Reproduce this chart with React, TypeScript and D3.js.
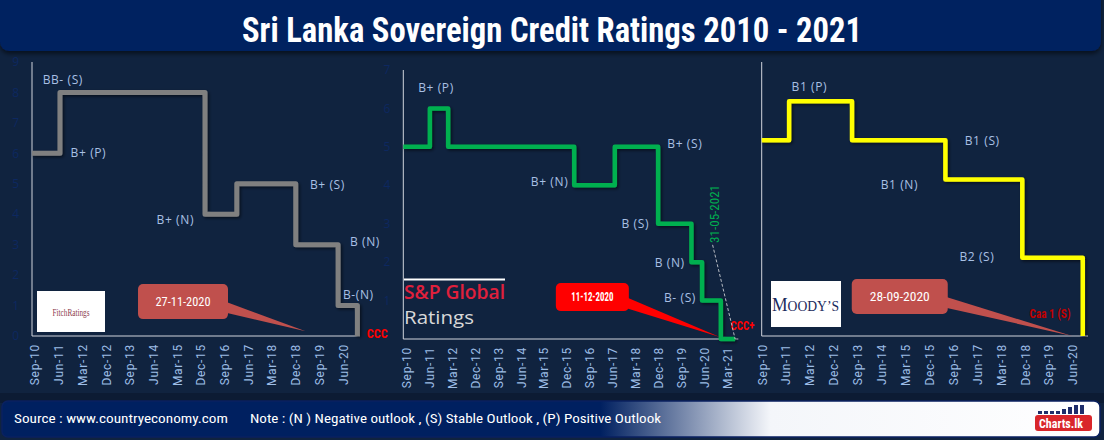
import React from "react";
import * as d3 from "d3";

const WIDTH = 1104;
const HEIGHT = 440;

const TITLE = "Sri Lanka Sovereign Credit Ratings 2010 - 2021";
const SOURCE_TEXT = "Source : www.countryeconomy.com";
const NOTE_TEXT = "Note : (N ) Negative outlook , (S) Stable Outlook , (P) Positive Outlook";

// x-axis tick labels (every 9 months)
const ticksBase = ["Sep-10", "Jun-11", "Mar-12", "Dec-12", "Sep-13", "Jun-14", "Mar-15", "Dec-15", "Sep-16", "Jun-17", "Mar-18", "Dec-18", "Sep-19", "Jun-20"];
const ticksSP = [...ticksBase, "Mar-21"];

// ---------- Fitch ----------
const fitchDates = ["2010-07-28", "2011-06-16", "2016-01-16", "2017-01-17", "2018-11-29", "2020-04-01", "2020-11-10"];
const fitchLevels = [6, 8, 4, 5, 3, 1, 0];
const fitchLabelText = ["BB- (S)", "B+ (P)", "B+ (N)", "B+ (S)", "B (N)", "B-(N)"];
const fitchLabelDates = ["2010-11-28", "2011-10-17", "2014-07-06", "2019-05-12", "2020-08-16", "2020-05-27"];
const fitchLabelLevels = [8.29, 5.89, 3.68, 4.84, 2.96, 1.22];
const fitchYTicks = [0, 1, 2, 3, 4, 5, 6, 7, 8, 9];
const fitchFinal = { text: "CCC", date: "2021-02-27", level: -0.07 };
const fitchCallout = { text: "27-11-2020", date: "2015-05-07", level: 1.13, tipDate: "2019-03-23", tipLevel: 0.16 };

// ---------- S&P ----------
const spDates = ["2010-07-23", "2011-06-05", "2012-01-10", "2016-02-24", "2017-06-23", "2018-11-23", "2019-12-26", "2020-05-01", "2020-12-11", "2021-05-31"];
const spLevels = [5, 6, 5, 4, 5, 3, 2, 1, 0, 0];
const spLabelText = ["B+ (P)", "B+ (S)", "B+ (N)", "B (S)", "B (N)", "B- (S)"];
const spLabelDates = ["2011-01-17", "2019-03-13", "2014-09-24", "2017-09-12", "2018-10-13", "2019-02-01"];
const spLabelLevels = [6.42, 4.97, 3.98, 2.89, 1.87, 0.97];
const spYTicks = [1, 2, 3, 4, 5, 6, 7];
const spFinal = { text: "CCC+", date: "2021-04-06", level: 0.23 };
const spCallout = { text: "11-12-2020", date: "2016-09-28", level: 1.09, tipDate: "2020-11-28", tipLevel: 0.05 };
const spDateNote = { text: "31-05-2021", date: "2020-11-19", level: 2.5, lineFromDate: "2020-09-04", lineFromLevel: 2.45, lineToDate: "2021-05-31", lineToLevel: 0 };

// ---------- Moody's ----------
const moodyDates = ["2010-08-25", "2011-07-05", "2013-06-25", "2016-05-30", "2018-10-28", "2020-09-20"];
const moodyLevels = [5, 6, 5, 4, 2, 0];
const moodyLabelText = ["B1 (P)", "B1 (S)", "B1 (N)", "B2 (S)"];
const moodyLabelDates = ["2011-08-02", "2017-01-07", "2014-05-19", "2016-11-07"];
const moodyLabelLevels = [6.26, 4.88, 3.76, 1.92];
const moodyFinal = { text: "Caa 1 (S)", date: "2019-01-19", level: 0.46 };
const moodyCallout = { text: "28-09-2020", date: "2014-12-24", level: 1.01, tipDate: "2020-05-22", tipLevel: 0 };

const parseDate = d3.timeParse("%Y-%m-%d");
const parseTick = d3.timeParse("%b-%y");

const LABEL_COLOR = "#a9c0e4";
const TICK_COLOR = "#9dbde6";
const AXIS_COLOR = "#d0d4dc";
const BG = "#10233f";
const COND = "'Roboto Condensed','Liberation Sans Narrow','DejaVu Sans Condensed',Roboto,sans-serif";

type Panel = {
  id: string;
  domain: [string, string];
  xRange: [number, number];
  yMax: number;
  yRange: [number, number];
  ticks: string[];
  dates: string[];
  levels: number[];
  color: string;
  strokeWidth: number;
  labelText: string[];
  labelDates: string[];
  labelLevels: number[];
  yTicks: number[] | null;
  final: { text: string; date: string; level: number };
  finalColor: string;
  finalLength: number;
  callout: { text: string; date: string; level: number; tipDate: string; tipLevel: number };
  calloutFill: string;
  calloutW: number;
  calloutH: number;
  calloutTextLen: number;
  calloutBold: boolean;
};

const panels: Panel[] = [
  {
    id: "fitch",
    domain: ["2010-07-28", "2020-12-10"],
    xRange: [32, 360],
    yMax: 9,
    yRange: [336, 62],
    ticks: ticksBase,
    dates: fitchDates,
    levels: fitchLevels,
    color: "#808080",
    strokeWidth: 5,
    labelText: fitchLabelText,
    labelDates: fitchLabelDates,
    labelLevels: fitchLabelLevels,
    yTicks: fitchYTicks,
    final: fitchFinal,
    finalColor: "#ff0000",
    finalLength: 21,
    callout: fitchCallout,
    calloutFill: "#c0504d",
    calloutW: 90,
    calloutH: 35,
    calloutTextLen: 55,
    calloutBold: false,
  },
  {
    id: "sp",
    domain: ["2010-07-23", "2021-07-08"],
    xRange: [403.3, 738.3],
    yMax: 7,
    yRange: [339, 70],
    ticks: ticksSP,
    dates: spDates,
    levels: spLevels,
    color: "#00b050",
    strokeWidth: 4.5,
    labelText: spLabelText,
    labelDates: spLabelDates,
    labelLevels: spLabelLevels,
    yTicks: spYTicks,
    final: spFinal,
    finalColor: "#ff0000",
    finalLength: 24,
    callout: spCallout,
    calloutFill: "#ff0000",
    calloutW: 73,
    calloutH: 28,
    calloutTextLen: 42,
    calloutBold: true,
  },
  {
    id: "moody",
    domain: ["2010-08-25", "2020-11-19"],
    xRange: [761.7, 1088],
    yMax: 7,
    yRange: [336, 62],
    ticks: ticksBase,
    dates: moodyDates,
    levels: moodyLevels,
    color: "#ffff00",
    strokeWidth: 4.5,
    labelText: moodyLabelText,
    labelDates: moodyLabelDates,
    labelLevels: moodyLabelLevels,
    yTicks: null,
    final: moodyFinal,
    finalColor: "#c00000",
    finalLength: 41,
    callout: moodyCallout,
    calloutFill: "#c0504d",
    calloutW: 96,
    calloutH: 35,
    calloutTextLen: 60,
    calloutBold: false,
  },
];

function PanelView({ p }: { p: Panel }) {
  const x = d3.scaleTime().domain(p.domain.map((s) => parseDate(s) as Date)).range(p.xRange);
  const y = d3.scaleLinear().domain([0, p.yMax]).range(p.yRange);
  const pts = p.dates.map((d, i) => ({ date: parseDate(d) as Date, level: p.levels[i] }));
  const line = d3
    .line<{ date: Date; level: number }>()
    .x((d) => x(d.date))
    .y((d) => y(d.level))
    .curve(d3.curveStepAfter);
  const [x0, x1] = p.xRange;
  const [yb, yt] = p.yRange;
  const c = p.callout;
  const cx = x(parseDate(c.date) as Date);
  const cy = y(c.level);
  const tipX = x(parseDate(c.tipDate) as Date);
  const tipY = y(c.tipLevel);
  const right = cx + p.calloutW / 2;
  const tail = `M${right - 3},${cy} L${right - 3},${cy + 11} L${tipX},${tipY} Z`;
  return (
    <g>
      {p.yTicks &&
        p.yTicks.map((t) => (
          <text key={"yt" + t} x={x0 - 13} y={y(t)} dy="0.35em" textAnchor="end" fill="#0d2860" fontSize={12} fontFamily="'Open Sans',sans-serif">
            {t}
          </text>
        ))}
      <line x1={x0} x2={x0} y1={yt} y2={yb} stroke={AXIS_COLOR} strokeWidth={1} />
      <line x1={x0} x2={x1} y1={yb} y2={yb} stroke={AXIS_COLOR} strokeWidth={1} />
      {p.ticks.map((t) => {
        const tx = x(parseTick(t) as Date);
        return (
          <text
            key={t}
            transform={`translate(${tx},${yb + 8}) rotate(-90)`}
            textAnchor="end"
            dy="0.36em"
            fill={TICK_COLOR}
            fontSize={12}
            letterSpacing={0.7}
            fontFamily="Roboto, sans-serif"
          >
            {t}
          </text>
        );
      })}
      <path d={line(pts) || ""} fill="none" stroke={p.color} strokeWidth={p.strokeWidth} strokeLinejoin="round" filter="url(#lineShadow)" />
      {p.labelText.map((t, i) => (
        <text
          key={t + i}
          x={x(parseDate(p.labelDates[i]) as Date)}
          y={y(p.labelLevels[i])}
          fill={LABEL_COLOR}
          fontSize={12}
          letterSpacing={0.6}
          fontFamily="'Open Sans',sans-serif"
        >
          {t}
        </text>
      ))}
      <text
        x={x(parseDate(p.final.date) as Date)}
        y={y(p.final.level)}
        fill={p.finalColor}
        fontSize={13}
        fontWeight={700}
        fontFamily={COND}
        textLength={p.finalLength}
        lengthAdjust="spacingAndGlyphs"
      >
        {p.final.text}
      </text>
      <path d={tail} fill={p.calloutFill} />
      <rect x={cx - p.calloutW / 2} y={cy - p.calloutH / 2} width={p.calloutW} height={p.calloutH} rx={5} fill={p.calloutFill} />
      <text
        x={cx}
        y={cy}
        dy="0.36em"
        textAnchor="middle"
        fill="#ffffff"
        fontSize={p.calloutBold ? 12 : 13}
        fontWeight={p.calloutBold ? 700 : 400}
        fontFamily={COND}
        textLength={p.calloutTextLen}
        lengthAdjust="spacingAndGlyphs"
      >
        {c.text}
      </text>
    </g>
  );
}

function SPExtras() {
  const p = panels[1];
  const x = d3.scaleTime().domain(p.domain.map((s) => parseDate(s) as Date)).range(p.xRange);
  const y = d3.scaleLinear().domain([0, p.yMax]).range(p.yRange);
  const n = spDateNote;
  const tx = x(parseDate(n.date) as Date);
  const ty = y(n.level);
  return (
    <g>
      <line
        x1={x(parseDate(n.lineFromDate) as Date)}
        y1={y(n.lineFromLevel)}
        x2={x(parseDate(n.lineToDate) as Date)}
        y2={y(n.lineToLevel)}
        stroke="#b8bcc4"
        strokeWidth={1}
        strokeDasharray="3,2"
      />
      <text
        transform={`translate(${tx},${ty}) rotate(-90)`}
        fill="#00b050"
        fontSize={13}
        fontFamily={COND}
        textLength={58}
        lengthAdjust="spacingAndGlyphs"
      >
        {n.text}
      </text>
      {/* S&P Global Ratings logo */}
      <line x1={404} x2={505} y1={279.5} y2={279.5} stroke="#ffffff" strokeWidth={2.2} />
      <text x={404} y={299} fill="#e0203c" fontSize={19} fontWeight={600} fontFamily="'Open Sans',sans-serif" textLength={101} lengthAdjust="spacingAndGlyphs">
        S&amp;P Global
      </text>
      <text x={404} y={324} fill="#d8d8d8" fontSize={18} fontFamily="'Open Sans',sans-serif" textLength={70} lengthAdjust="spacingAndGlyphs">
        Ratings
      </text>
    </g>
  );
}

export default function App() {
  const barHeights = [3, 3, 3, 3, 5, 7, 9, 9];
  return (
    <svg width={WIDTH} height={HEIGHT} style={{ position: "absolute", left: 0, top: 0, display: "block" }}>
      <defs>
        <filter id="lineShadow" x="-10%" y="-10%" width="120%" height="120%">
          <feDropShadow dx="1.5" dy="1.5" stdDeviation="1.5" floodColor="#000000" floodOpacity="0.55" />
        </filter>
        <filter id="barShadow" x="-5%" y="-20%" width="110%" height="160%">
          <feDropShadow dx="0" dy="3" stdDeviation="2" floodColor="#000000" floodOpacity="0.5" />
        </filter>
        <linearGradient id="footGrad" x1="0" x2="1" y1="0" y2="0">
          <stop offset="0" stopColor="#002060" />
          <stop offset="0.545" stopColor="#002060" />
          <stop offset="0.7" stopColor="#f4f6fa" />
          <stop offset="1" stopColor="#ffffff" />
        </linearGradient>
      </defs>
      <rect x={0} y={0} width={WIDTH} height={HEIGHT} fill={BG} />
      {/* title bar */}
      <rect x={0} y={-10} width={1101} height={61} rx={9} fill="#002060" filter="url(#barShadow)" />
      <text
        x={552}
        y={42}
        textAnchor="middle"
        fill="#ffffff"
        fontSize={35}
        fontWeight={700}
        fontFamily={COND}
        textLength={620}
        lengthAdjust="spacingAndGlyphs"
      >
        {TITLE}
      </text>
      {panels.map((p) => (
        <PanelView key={p.id} p={p} />
      ))}
      <SPExtras />
      {/* Fitch logo */}
      <rect x={37} y={291} width={68} height={41} fill="#ffffff" />
      <text x={71} y={316} textAnchor="middle" fill="#8c3b4e" fontSize={10} fontFamily="'Liberation Serif','DejaVu Serif',serif" textLength={37} lengthAdjust="spacingAndGlyphs">
        FitchRatings
      </text>
      {/* Moody's logo */}
      <rect x={771} y={281} width={70} height={46} fill="#ffffff" />
      <text x={772} y={311} fill="#1b2a5c" fontFamily="'Liberation Serif','DejaVu Serif',serif" textLength={67} lengthAdjust="spacingAndGlyphs">
        <tspan fontSize={18}>M</tspan>
        <tspan fontSize={14}>OODY’S</tspan>
      </text>
      {/* footer */}
      <rect x={0} y={393} width={WIDTH} height={10} fill="#0c1b33" />
      <rect x={2} y={401} width={1098} height={36} rx={6} fill="url(#footGrad)" stroke="#0a2160" strokeWidth={1.5} />
      <text x={14} y={423} fill="#ffffff" fontSize={13} fontFamily={COND} textLength={214} lengthAdjust="spacingAndGlyphs">
        {SOURCE_TEXT}
      </text>
      <text x={250} y={423} fill="#ffffff" fontSize={13} fontFamily={COND} textLength={411} lengthAdjust="spacingAndGlyphs">
        {NOTE_TEXT}
      </text>
      {/* Charts.lk logo */}
      {barHeights.map((h, i) => (
        <rect key={"b" + i} x={1038 + i * 6} y={414 - h} width={4} height={h} fill="#1e2d6b" />
      ))}
      <rect x={1035} y={415} width={57} height={16} rx={3} fill="#d9262b" />
      <text x={1039} y={428} fill="#ffffff" fontSize={13} fontWeight={700} fontFamily={COND} textLength={44} lengthAdjust="spacingAndGlyphs">
        Charts.lk
      </text>
    </svg>
  );
}
